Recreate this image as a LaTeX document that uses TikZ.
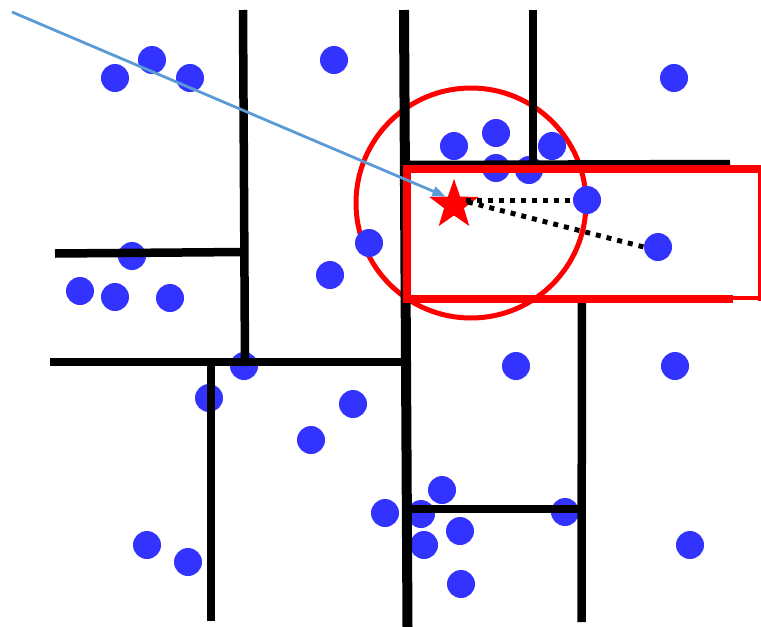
\documentclass[tikz,border=0pt]{standalone}
\usetikzlibrary{shapes.geometric,arrows.meta}
\definecolor{dotblue}{RGB}{51,51,255}
\definecolor{arrowblue}{RGB}{91,155,213}
\definecolor{pred}{RGB}{255,0,0}
\tikzset{
  pt/.style={circle,fill=dotblue,draw=none,minimum size=28pt,inner sep=0pt},
  wall/.style={line width=8.5pt,black},
  redline/.style={line width=8pt,pred},
  nnlink/.style={line width=5pt,black,dash pattern=on 5pt off 6pt},
}
\begin{document}
\begin{tikzpicture}[x=1pt,y=-1pt]
\useasboundingbox (0,0) rectangle (761,627);
% search circle
\draw[pred,line width=5pt] (471,203) circle (115);
% data points
\foreach \n/\x/\y in {1/115/78,2/152/60,3/190/78,4/334/60,5/674/78,
  6/454/146,7/496/133,8/552/146,9/496/168,10/529/170,11/587/200,12/658/247,
  13/132/256,14/80/291,15/115/297,16/170/298,17/369/243,18/330/275,
  19/244/366,20/209/398,21/353/404,22/311/440,23/516/366,24/675/366,
  25/442/490,26/385/513,27/421/514,28/460/531,29/424/545,30/565/512,31/461/584,
  32/147/545,33/188/562,34/690/545}
  \node[pt] (d\n) at (\x,\y) {};
% partition lines
\draw[wall,line width=10pt] (404,10) -- (407.5,627);
\draw[wall] (243,10) -- (245,366);
\draw[wall] (55,253.5) -- (245,252);
\draw[wall] (50,362) -- (407,362);
\draw[wall] (211,362) -- (211,621);
\draw[wall] (533,10) -- (533,166);
\draw[wall] (404,165) -- (730,164);
\draw[wall] (404,299) -- (730,299);
\draw[wall] (582,299) -- (581.5,622);
\draw[wall] (407,509) -- (582,509);
% query region rectangle
\draw[redline] (761,169) -- (407,169) -- (407,299) -- (733,299);
\draw[pred,line width=4pt] (733,297.5) -- (761,297.5);
\draw[pred,line width=3.5pt] (759.25,166) -- (759.25,301);
% query point
\node[star,star points=5,star point ratio=2.5,fill=pred,draw=none,minimum size=52pt,inner sep=0pt] (q) at (454,205) {};
\coordinate (qa) at (466,200);
\coordinate (qb) at (468,202);
\draw[nnlink] (qa) -- (d11.west);
\draw[nnlink] (qb) -- (d12.west);
% incoming arrow
\coordinate (src) at (12,12);
\draw[arrowblue,line width=2.8pt,-{Triangle[length=13pt,width=10pt]}] (src) -- (q.north west);
\end{tikzpicture}
\end{document}
